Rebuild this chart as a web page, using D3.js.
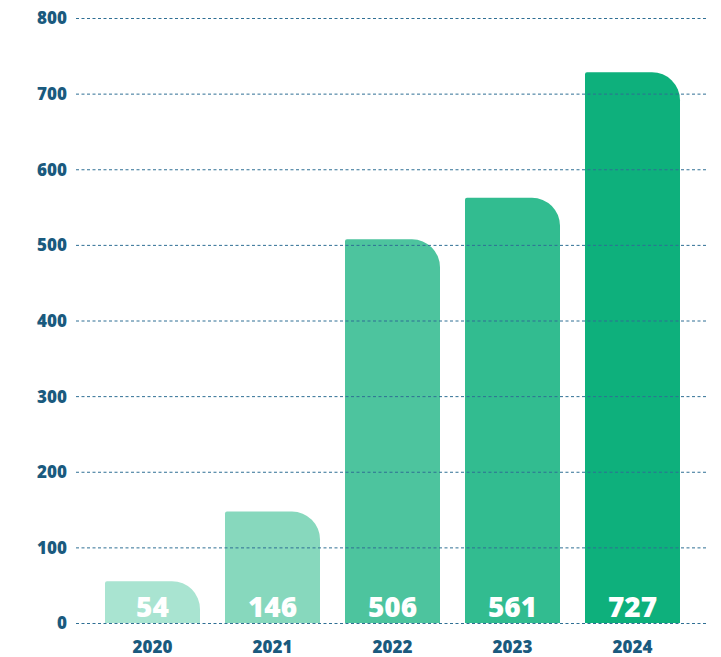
<!DOCTYPE html>
<html>
<head>
<meta charset="utf-8">
<script src="https://cdn.jsdelivr.net/npm/d3@7"></script>
<style>
  body { margin: 0; background: #fff; }
  svg { display: block; font-family: "Open Sans", sans-serif; }
</style>
</head>
<body>
<div id="chart"></div>
<script>
// Chart data
var years = ["2020", "2021", "2022", "2023", "2024"];
var values = [54, 146, 506, 561, 727];
var barColors = ["#a9e4d1", "#87d8bd", "#4dc49e", "#32bc90", "#0eb07c"];
var yTicks = [0, 100, 200, 300, 400, 500, 600, 700, 800];

var w = 721, h = 657;
var svg = d3.select("#chart").append("svg").attr("width", w).attr("height", h);

// Scales
var x = d3.scaleBand().domain(years).range([92.5, 692.5]).paddingInner(25 / 120).paddingOuter(25 / 240);
var y = d3.scaleLinear().domain([0, 800]).range([623, 18]);

var textColor = "#1a5a7e";

// Bars with a big rounded top-right corner
function barPath(x0, y0, bw, bh) {
  var r = Math.min(28, bh, bw / 2);
  var rl = Math.min(2, bh);
  return "M" + x0 + "," + (y0 + bh) +
    "V" + (y0 + rl) +
    "Q" + x0 + "," + y0 + " " + (x0 + rl) + "," + y0 +
    "H" + (x0 + bw - r) +
    "A" + r + "," + r + " 0 0 1 " + (x0 + bw) + "," + (y0 + r) +
    "V" + (y0 + bh) + "Z";
}

svg.selectAll("path.bar")
  .data(values)
  .enter()
  .append("path")
  .attr("class", "bar")
  .attr("fill", (d, i) => barColors[i])
  .attr("d", (d, i) => barPath(x(years[i]), y(d) - 1, x.bandwidth(), y(0) - y(d) + 1));

// Dotted gridlines on top of the bars
svg.selectAll("line.grid")
  .data(yTicks)
  .enter()
  .append("line")
  .attr("class", "grid")
  .attr("x1", 76)
  .attr("x2", 706)
  .attr("y1", (d) => y(d) + 0.5)
  .attr("y2", (d) => y(d) + 0.5)
  .attr("stroke", "#2f6f94")
  .attr("stroke-width", 1)
  .attr("stroke-dasharray", "3,2.5");

// Y axis labels
var yAxis = d3.axisLeft(y).tickValues(yTicks).tickSize(0).tickPadding(0);
var gy = svg.append("g").attr("transform", "translate(67,0)").call(yAxis);
gy.select(".domain").remove();
gy.selectAll("text")
  .attr("fill", textColor)
  .attr("font-family", "Open Sans, sans-serif")
  .attr("font-size", 17)
  .attr("font-weight", 800)
  .attr("dy", "0.35em");

// X axis labels
var xAxis = d3.axisBottom(x).tickSize(0).tickPadding(0);
var gx = svg.append("g").attr("transform", "translate(0,641)").call(xAxis);
gx.select(".domain").remove();
gx.selectAll("text")
  .attr("fill", textColor)
  .attr("font-family", "Open Sans, sans-serif")
  .attr("font-size", 17)
  .attr("font-weight", 800)
  .attr("dy", "0.71em");

// Value labels inside the bars
svg.selectAll("text.value")
  .data(values)
  .enter()
  .append("text")
  .attr("class", "value")
  .attr("x", (d, i) => x(years[i]) + x.bandwidth() / 2)
  .attr("y", 617)
  .attr("text-anchor", "middle")
  .attr("fill", "#fff")
  .attr("font-size", 28)
  .attr("font-weight", 800)
  .text((d) => d);
</script>
</body>
</html>
